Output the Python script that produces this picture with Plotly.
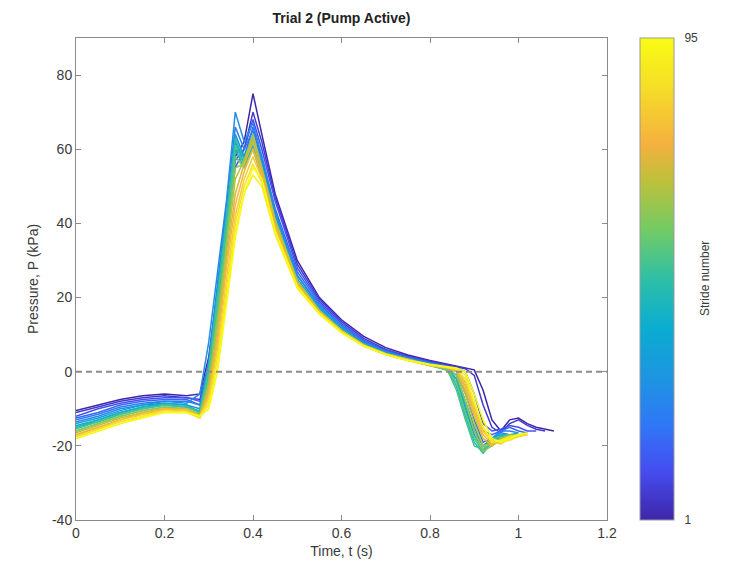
import plotly.graph_objects as go
from plotly.colors import sample_colorscale

# ---------------- data ----------------
T = [0, 0.05, 0.1, 0.15, 0.2, 0.25, 0.28, 0.3, 0.32, 0.34, 0.36, 0.38, 0.4, 0.42, 0.45,
     0.5, 0.55, 0.6, 0.65, 0.7, 0.75, 0.8, 0.84, 0.86, 0.88, 0.9, 0.92, 0.94, 0.96, 0.98,
     1.0, 1.02, 1.04, 1.06, 1.08]

STRIDES = [1, 6, 11, 16, 21, 26, 31, 36, 41, 46, 51, 56, 61, 66, 71, 76, 81, 86, 91, 95]

s01 = [-10.5, -9, -7.5, -6.5, -6, -6.5, -6, 4, 22, 42, 58, 62, 75, 64, 48, 30, 20, 14, 9.5, 6.5, 4.5, 3, 2, 1.5, 1, 0.5, -5, -13, -16, -13, -12.5, -14, -15, -15.5, -16]
s06 = [-11, -9.5, -8, -7, -6.5, -7, -7.5, 2, 20, 40, 57, 60, 70, 62, 47, 29, 19.5, 13.5, 9, 6, 4.2, 2.8, 1.8, 1.2, 0.8, -1, -9, -15, -16.5, -14, -13, -14.5, -15.5, -16, None]
s11 = [-12, -10, -8.5, -7.5, -7, -7, -8, 0, 18, 38, 55, 60, 68, 60, 46, 28, 19, 13, 8.5, 5.8, 4, 2.6, 1.6, 1, 0, -6, -14, -16, -15.5, -14.5, -15, -16, -16, None, None]
s16 = [-12.5, -11, -9, -8, -7.5, -7.5, -9, 1, 20, 40, 60, 58, 66, 58, 44, 27, 18.5, 12.5, 8.2, 5.5, 3.8, 2.4, 1.4, 0.5, -3, -10, -16, -17, -16, -15, -16, -16.5, None, None, None]
s21 = [-13, -11.5, -9.5, -8.5, -8, -8, -9, 3, 24, 45, 66, 60, 65, 57, 43, 26, 18, 12.5, 8, 5.5, 3.7, 2.3, 1.2, 0, -6, -13, -19, -18, -16, -16, -16.5, None, None, None, None]
s26 = [-13.5, -12, -10, -9, -8, -8.5, -6, 8, 27, 46, 70, 62, 67, 58, 43, 26, 17.5, 12, 7.8, 5.3, 3.6, 2.2, 1, -1, -8, -15, -20, -18, -16.5, -17, -17, None, None, None, None]
s31 = [-14, -12.5, -10.5, -9, -8.5, -9, -10, 2, 22, 42, 64, 58, 64, 56, 42, 25, 17, 11.8, 7.6, 5.2, 3.5, 2.1, 0.8, -2, -10, -17, -21, -18, -17, -17.5, None, None, None, None, None]
s36 = [-14.5, -13, -11, -9.5, -8.5, -9, -11, 0, 20, 40, 62, 56, 62, 55, 41, 25, 17, 11.5, 7.5, 5, 3.4, 2, 0.5, -3, -11, -18, -21.5, -19, -17.5, -17, None, None, None, None, None]
s41 = [-15, -13, -11, -9.5, -9, -9.5, -11, -1, 18, 38, 60, 55, 61, 54, 41, 24.5, 16.5, 11.3, 7.3, 4.9, 3.3, 1.9, 0.6, -2, -9, -16, -20, -18.5, -17, -17, -16.5, None, None, None, None]
s46 = [-15, -13.5, -11.5, -10, -9, -9.5, -10.5, 1, 21, 42, 63, 57, 60, 53, 40, 24, 16.5, 11.2, 7.2, 4.8, 3.2, 1.8, 0.5, -4, -12, -19, -22, -19, -18, -17.5, None, None, None, None, None]
s51 = [-15.5, -13.5, -11.5, -10, -9, -9.5, -11, 0, 19, 39, 61, 56, 62, 54, 40, 24, 16.2, 11, 7, 4.7, 3.1, 1.7, 0.3, -5, -13, -20, -21, -18, -17.5, -17, -17, None, None, None, None]
s56 = [-16, -14, -12, -10.5, -9.5, -10, -11.5, -2, 16, 36, 58, 55, 60, 52, 39, 23.5, 16, 10.8, 7, 4.6, 3, 1.6, 0.5, -3, -11, -18, -21, -19, -18, -17.5, None, None, None, None, None]
s61 = [-16, -14, -12, -10.5, -9.5, -10, -12, -3, 14, 34, 55, 56, 63, 55, 41, 24.5, 16.5, 11, 7.2, 4.8, 3.2, 1.8, 0.8, -1, -8, -16, -21.5, -20, -18, -17, -17.5, None, None, None, None]
s66 = [-16.5, -14.5, -12.5, -11, -10, -10, -11.5, -4, 12, 32, 52, 57, 64, 55, 41, 24.5, 16.5, 11.2, 7.3, 4.9, 3.3, 1.9, 1, 0, -6, -14, -20, -19.5, -18, -17.5, -17, None, None, None, None]
s71 = [-17, -15, -13, -11, -10, -10, -12, -5, 10, 30, 48, 56, 62, 54, 40, 24, 16.2, 11, 7.2, 4.8, 3.2, 1.8, 1, 0.2, -5, -12, -18, -20, -18.5, -17.5, -17, None, None, None, None]
s76 = [-17, -15, -13, -11.5, -10, -10.5, -12.5, -6, 8, 28, 45, 54, 60, 53, 39, 23.5, 16, 10.8, 7, 4.7, 3.1, 1.7, 1, 0.3, -4, -11, -17, -19.5, -19, -18, -17, -17, None, None, None]
s81 = [-17.5, -15.5, -13, -11.5, -10.5, -10.5, -12, -7, 6, 25, 42, 52, 58, 52, 38, 23, 15.8, 10.7, 7, 4.6, 3, 1.7, 1.1, 0.5, -3, -10, -16, -19, -19.5, -18, -17.5, -17, None, None, None]
s86 = [-17.5, -15.5, -13.5, -12, -10.5, -11, -12.5, -8, 4, 22, 40, 50, 56, 51, 38, 23, 15.7, 10.6, 6.9, 4.6, 3, 1.8, 1.2, 0.6, -2, -9, -15, -18.5, -19, -18.5, -17.5, -17, None, None, None]
s91 = [-18, -16, -14, -12, -11, -11, -12, -9, 2, 20, 38, 48, 53, 50, 37, 22.5, 15.5, 10.5, 6.9, 4.6, 3, 1.9, 1.3, 0.8, -1, -8, -15, -19, -18.5, -17.5, -17, -16.5, None, None, None]
s95 = [-18, -16, -14, -12.5, -11, -11, -12, -10, 0, 18, 36, 48, 55, 52, 38, 23, 15.8, 10.7, 7, 4.7, 3.1, 2, 1.4, 1, 0, -6, -13, -18, -19, -18, -17, -16.5, None, None, None]

SERIES = [s01, s06, s11, s16, s21, s26, s31, s36, s41, s46,
          s51, s56, s61, s66, s71, s76, s81, s86, s91, s95]

X_TICKS = [0, 0.2, 0.4, 0.6, 0.8, 1, 1.2]
X_TICK_LABELS = ["0", "0.2", "0.4", "0.6", "0.8", "1", "1.2"]
Y_TICKS = [-40, -20, 0, 20, 40, 60, 80]
Y_TICK_LABELS = ["-40", "-20", "0", "20", "40", "60", "80"]
ZERO_LINE_X = [0, 1.2]
ZERO_LINE_Y = [0, 0]

# ---------------- style ----------------
PARULA = [
    [0.00, "#3E26A8"],
    [0.10, "#464CF0"],
    [0.20, "#2F78F6"],
    [0.30, "#1C96E0"],
    [0.40, "#0AADD0"],
    [0.50, "#2EBFA6"],
    [0.60, "#71CB65"],
    [0.70, "#BBC13C"],
    [0.78, "#F5B03E"],
    [0.90, "#F5DF27"],
    [1.00, "#F9FB14"],
]

FONT = "Liberation Sans, Arial, Helvetica, sans-serif"
AXIS_COLOR = "#8a8a8a"
TEXT_COLOR = "#3a3a3a"

smin, smax = min(STRIDES), max(STRIDES)
colors = sample_colorscale(PARULA, [(s - smin) / (smax - smin) for s in STRIDES])

fig = go.Figure()

for s, ys, c in zip(STRIDES, SERIES, colors):
    fig.add_trace(go.Scatter(
        x=T, y=ys, mode="lines", name=f"Stride {s}",
        line=dict(color=c, width=1.5), connectgaps=False, showlegend=False,
        hoverinfo="skip",
    ))

# dashed zero reference line
fig.add_trace(go.Scatter(
    x=ZERO_LINE_X, y=ZERO_LINE_Y, mode="lines",
    line=dict(color="#8c8c8c", width=2, dash="6px,4px"),
    showlegend=False, hoverinfo="skip",
))

# colorbar carrier (invisible markers)
fig.add_trace(go.Scatter(
    x=T[:2], y=s01[:2], mode="markers", showlegend=False, hoverinfo="skip",
    marker=dict(
        size=0.1, opacity=0, color=[smin, smax], cmin=smin, cmax=smax,
        colorscale=PARULA, showscale=True,
        colorbar=dict(
            x=1.062, xanchor="left", xref="paper", xpad=0, ypad=0,
            y=0.5, yanchor="middle", len=1.0, lenmode="fraction",
            thickness=34, thicknessmode="pixels",
            outlinewidth=1, outlinecolor="#9a9a9a",
            tickvals=[smin, smax], ticktext=[str(smin), str(smax)],
            ticks="outside", ticklen=8, tickcolor="rgba(0,0,0,0)",
            tickfont=dict(family=FONT, size=12, color=TEXT_COLOR),
        ),
    ),
))

fig.add_annotation(
    text="Stride number", xref="paper", yref="paper",
    x=(705 - 76) / 531, y=0.5, xanchor="center", yanchor="middle",
    textangle=-90, showarrow=False,
    font=dict(family=FONT, size=12, color=TEXT_COLOR),
)

fig.update_layout(
    width=731, height=581,
    margin=dict(l=76, r=124, t=38, b=61),
    paper_bgcolor="white", plot_bgcolor="white",
    font=dict(family=FONT, color=TEXT_COLOR, size=14),
    title=dict(text="<b>Trial 2 (Pump Active)</b>", x=(76 + 607) / 2 / 731, xanchor="center",
               y=1 - 18 / 581, yanchor="middle",
               font=dict(family=FONT, size=14, color="#222222")),
)

fig.update_xaxes(
    range=[0, 1.2], tickvals=X_TICKS, ticktext=X_TICK_LABELS,
    showgrid=False, zeroline=False,
    showline=True, linecolor=AXIS_COLOR, linewidth=1, mirror="ticks",
    ticks="inside", ticklen=5, tickcolor=AXIS_COLOR,
    tickfont=dict(family=FONT, size=14, color=TEXT_COLOR),
    title=dict(text="Time, t (s)", standoff=6,
               font=dict(family=FONT, size=14, color=TEXT_COLOR)),
)
fig.update_yaxes(
    range=[-40, 90], tickvals=Y_TICKS, ticktext=Y_TICK_LABELS,
    showgrid=False, zeroline=False,
    showline=True, linecolor=AXIS_COLOR, linewidth=1, mirror="ticks",
    ticks="inside", ticklen=5, tickcolor=AXIS_COLOR,
    tickfont=dict(family=FONT, size=14, color=TEXT_COLOR),
    title=dict(text="Pressure, P (kPa)", standoff=10,
               font=dict(family=FONT, size=14, color=TEXT_COLOR)),
)

fig.write_html("out.html")
